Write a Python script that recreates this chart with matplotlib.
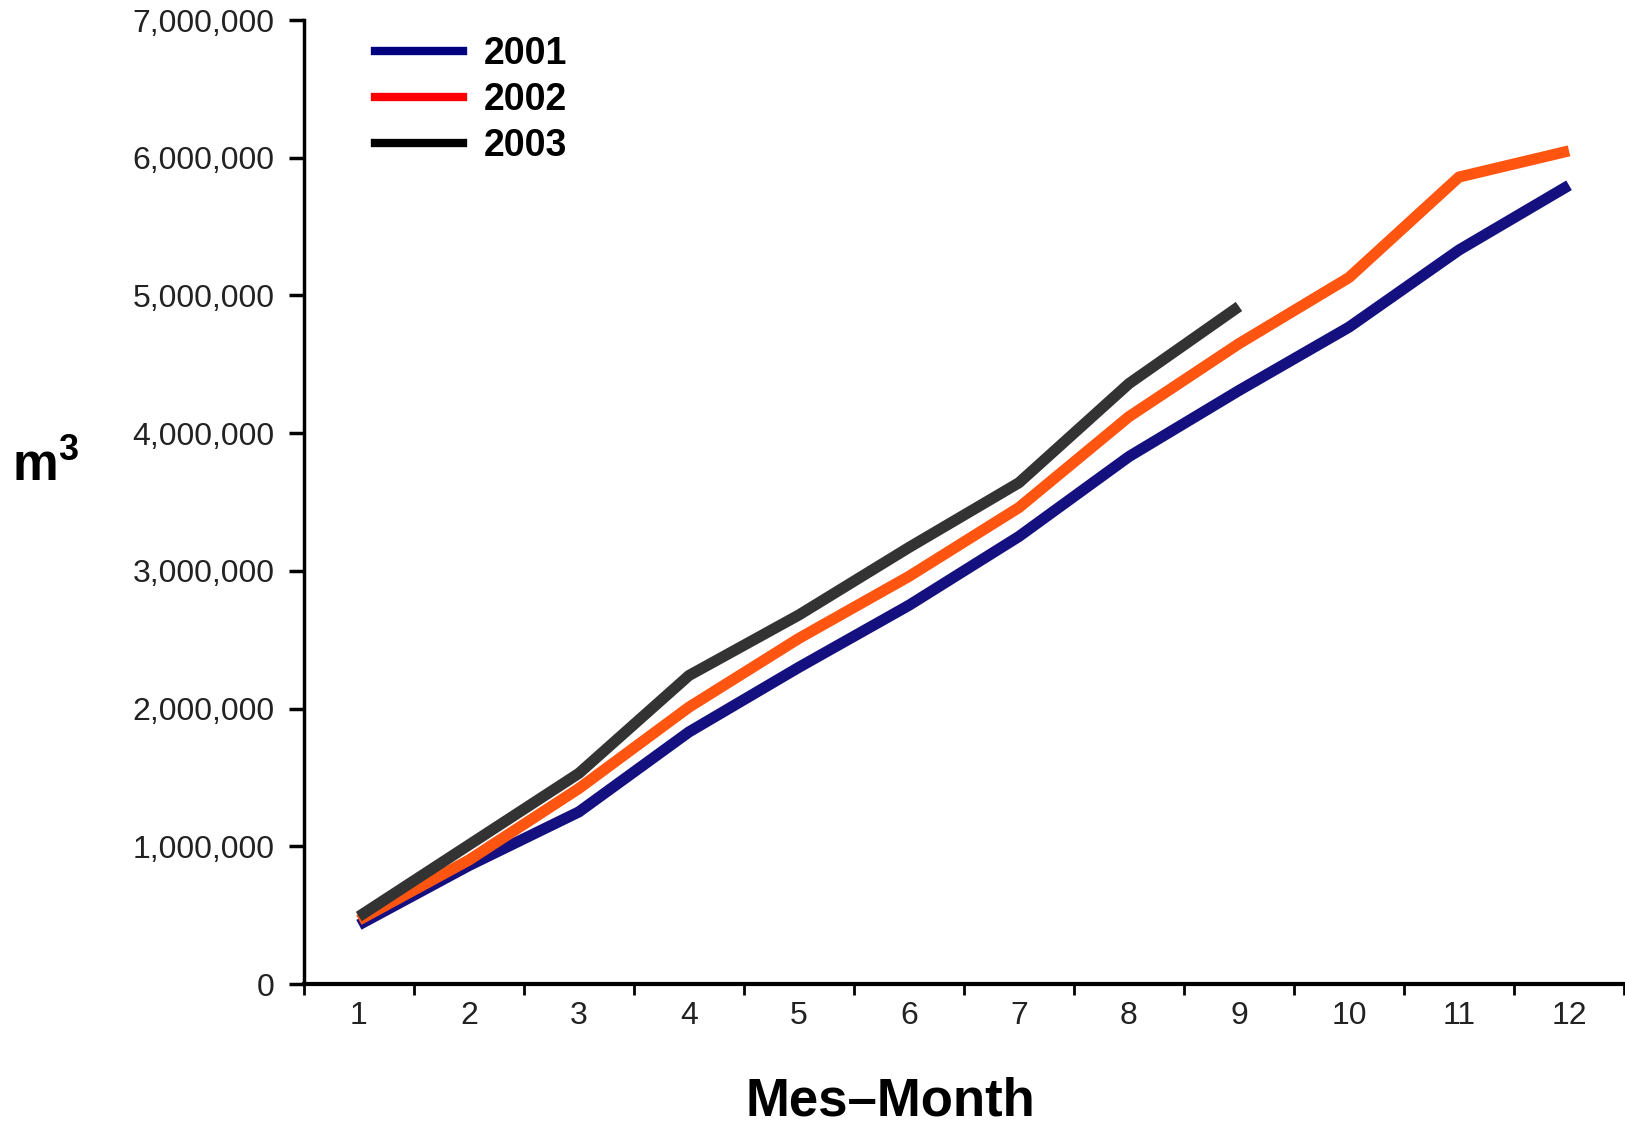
import matplotlib
matplotlib.use("Agg")
import matplotlib.pyplot as plt
from matplotlib.lines import Line2D
from matplotlib.ticker import FuncFormatter, FixedLocator

# ------------------- Data -------------------
months = [1, 2, 3, 4, 5, 6, 7, 8, 9, 10, 11, 12]
vol_2001 = [430000, 860000, 1250000, 1830000, 2300000, 2750000, 3250000,
            3830000, 4310000, 4770000, 5330000, 5800000]
vol_2002 = [465000, 900000, 1420000, 2010000, 2510000, 2960000, 3460000,
            4120000, 4650000, 5130000, 5860000, 6050000]
vol_2003 = [490000, 1010000, 1530000, 2240000, 2680000, 3170000, 3640000,
            4360000, 4920000]
years = ["2001", "2002", "2003"]

line_colors = ["#15107f", "#ff5511", "#333333"]
legend_colors = ["#000080", "#ff0000", "#000000"]

plt.rcParams["font.family"] = ["Liberation Sans", "DejaVu Sans"]
plt.rcParams["mathtext.fontset"] = "custom"
plt.rcParams["mathtext.bf"] = "Liberation Sans:bold"

# ------------------- Figure -------------------
fig = plt.figure(figsize=(16.25, 11.26), dpi=100)
ax = fig.add_axes([0.187, 0.1261, 0.8124, 0.8561])

for vals, col in zip([vol_2001, vol_2002, vol_2003], line_colors):
    ax.plot(months[:len(vals)], vals, color=col, lw=8,
            solid_joinstyle="round", solid_capstyle="butt")

ax.set_xlim(0.5, 12.5)
ax.set_ylim(0, 7000000)

# ticks between months, labels centred on months
ax.xaxis.set_major_locator(FixedLocator([m + 0.5 for m in [0] + months]))
ax.xaxis.set_minor_locator(FixedLocator(months))
ax.set_xticklabels([])
ax.set_xticklabels([str(m) for m in months], minor=True)
ax.tick_params(axis="x", which="major", direction="out", length=8, width=2)
ax.tick_params(axis="x", which="minor", length=0, pad=12,
               labelsize=23, labelcolor="#222222")

ax.set_yticks(range(0, 7000001, 1000000))
ax.yaxis.set_major_formatter(FuncFormatter(lambda v, p: "{:,.0f}".format(v)))
ax.tick_params(axis="y", direction="out", length=11, width=2.5, pad=10,
               labelsize=23, labelcolor="#222222")

for s in ["top", "right"]:
    ax.spines[s].set_visible(False)
ax.spines["left"].set_linewidth(2.5)
ax.spines["bottom"].set_linewidth(3)

# axis titles
fig.text(0.548, 0.022, "Mes\u2013Month", ha="center", va="center",
         fontsize=38, fontweight="bold")
fig.text(0.028, 0.585, r"$\mathbf{m^3}$", ha="center", va="center",
         fontsize=37)

# legend
handles = [Line2D([], [], color=c, lw=6) for c in legend_colors]
leg = ax.legend(handles, years, loc="upper left",
                bbox_to_anchor=(0.219, 0.985), bbox_transform=fig.transFigure,
                frameon=False, borderpad=0, handlelength=2.35,
                handletextpad=0.55, labelspacing=0.27,
                prop={"size": 27, "weight": "bold"})

fig.savefig("out.png", dpi=100)
